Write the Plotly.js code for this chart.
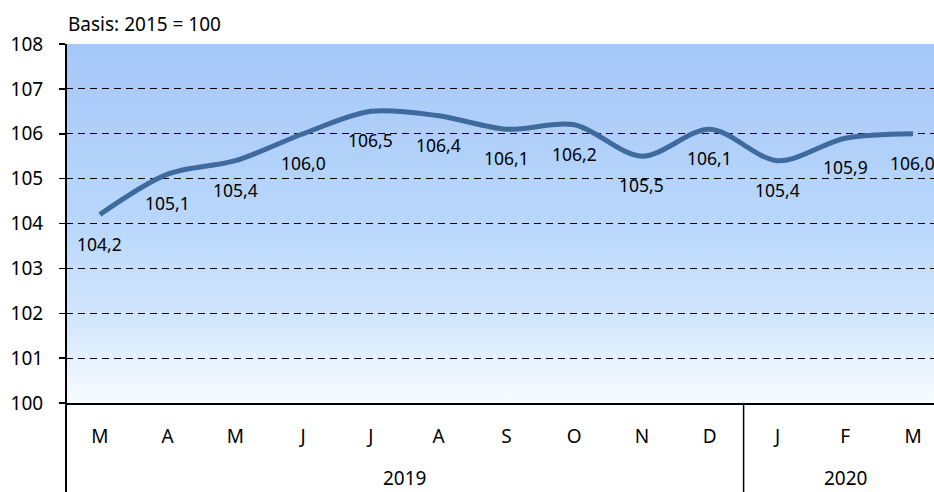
<!DOCTYPE html>
<html>
<head>
<meta charset="utf-8">
<script src="https://cdn.plot.ly/plotly-3.0.1.min.js"></script>
<style>
html,body{margin:0;padding:0;background:#fff;overflow:hidden;}
#chart{width:934px;height:492px;}
</style>
</head>
<body>
<div id="chart"></div>
<script>
const months = ["M","A","M","J","J","A","S","O","N","D","J","F","M"];
const values = [104.2,105.1,105.4,106.0,106.5,106.4,106.1,106.2,105.5,106.1,105.4,105.9,106.0];
const valueLabels = ["104,2","105,1","105,4","106,0","106,5","106,4","106,1","106,2","105,5","106,1","105,4","105,9","106,0"];
const years = ["2019","2020"];
const yearSpans = [[0,9],[10,12]];
const subtitle = "Basis: 2015 = 100";

const idx = months.map((m,i)=>i);
const FONT = "Noto Sans, sans-serif";

const gradSvg = '<svg xmlns="http://www.w3.org/2000/svg" width="10" height="100" preserveAspectRatio="none">' +
  '<defs><linearGradient id="g" x1="0" y1="0" x2="0" y2="1">' +
  '<stop offset="0" stop-color="#a6c8f9"/>' +
  '<stop offset="0.5" stop-color="#b9d7fb"/>' +
  '<stop offset="0.78" stop-color="#d3e7fc"/>' +
  '<stop offset="1" stop-color="#f9fcff"/>' +
  '</linearGradient></defs><rect width="10" height="100" fill="url(#g)"/></svg>';
const gradUrl = 'data:image/svg+xml;charset=utf-8,' + encodeURIComponent(gradSvg);

const trace = {
  x: idx, y: values, type: 'scatter', mode: 'lines',
  line: {color: '#3e6a9e', width: 5, shape: 'spline', smoothing: 0.9},
  hoverinfo: 'skip', cliponaxis: false
};

const annotations = values.map((v,i)=>({
  x: i, y: v, xref: 'x', yref: 'y', text: valueLabels[i], showarrow: false,
  yshift: -29, yanchor: 'middle', font: {family: FONT, size: 17.5, color: '#000'}
}));
yearSpans.forEach((s,k)=>{
  annotations.push({
    x: (s[0]+s[1])/2, y: 0, xref: 'x', yref: 'paper', yshift: -75, yanchor: 'middle',
    text: years[k], showarrow: false, borderpad: 0,
    font: {family: FONT, size: 19, color: '#000'}
  });
});
annotations.push({
  x: 0, y: 1, xref: 'paper', yref: 'paper', yshift: 20, xanchor: 'left', yanchor: 'middle',
  text: subtitle, showarrow: false, font: {family: FONT, size: 19, color: '#000'}
});

const shapes = [
  {type:'line', xref:'paper', yref:'paper', x0:0, x1:0, y0:-0.25, y1:1, line:{color:'#000', width:2}},
  {type:'line', xref:'x', yref:'paper', x0:yearSpans[0][1]+0.5, x1:yearSpans[0][1]+0.5, y0:-0.25, y1:0, line:{color:'#000', width:1.5}}
];

const layout = {
  width: 934, height: 492,
  margin: {l: 66, r: 0, t: 44, b: 89},
  paper_bgcolor: '#fff', plot_bgcolor: 'rgba(0,0,0,0)',
  showlegend: false,
  font: {family: FONT, size: 19, color: '#000'},
  images: [{source: gradUrl, xref: 'paper', yref: 'paper', x: 0, y: 1, sizex: 1, sizey: 1,
            sizing: 'stretch', layer: 'below', xanchor: 'left', yanchor: 'top'}],
  xaxis: {
    range: [-0.5, 12.31], tickmode: 'array', tickvals: idx, ticktext: months,
    showgrid: false, zeroline: false, showline: true, linecolor: '#000', linewidth: 2,
    ticks: '', ticklabelstandoff: 15, tickfont: {family: FONT, size: 19, color: '#000'},
    fixedrange: true
  },
  yaxis: {
    range: [100, 108], dtick: 1, tick0: 100, showgrid: true, gridcolor: '#000', gridwidth: 1,
    griddash: '7px,5px', zeroline: false, showline: false,
    ticks: 'outside', ticklen: 6, tickcolor: '#000', tickwidth: 1.5,
    ticklabelstandoff: 12,
    tickfont: {family: FONT, size: 19, color: '#000'}, fixedrange: true
  },
  annotations: annotations,
  shapes: shapes
};

Plotly.newPlot('chart', [trace], layout, {displayModeBar: false, staticPlot: true});
</script>
</body>
</html>
